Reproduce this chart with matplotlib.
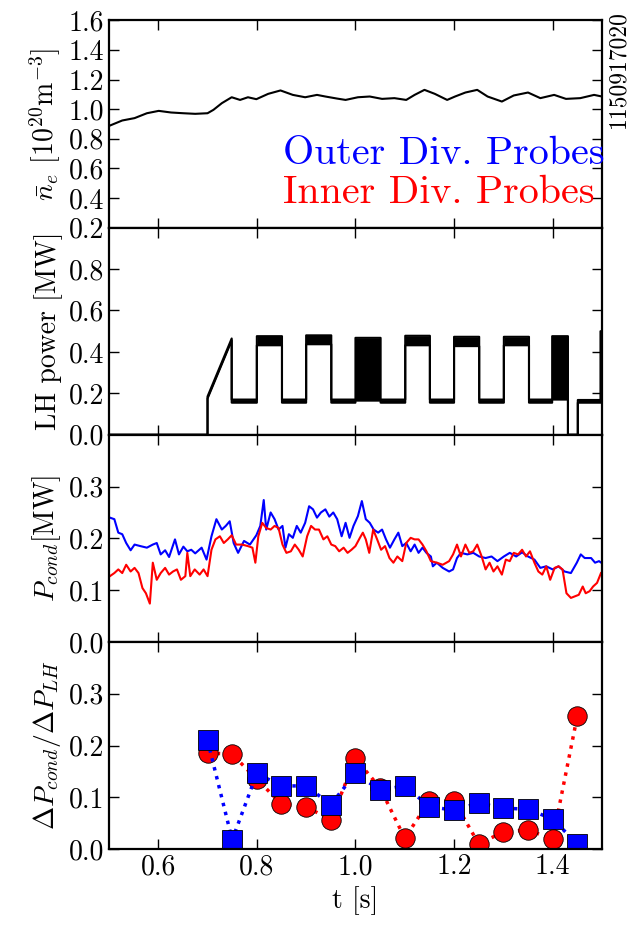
import numpy as np
import matplotlib
matplotlib.use('Agg')
import matplotlib.pyplot as plt
from matplotlib.ticker import FormatStrFormatter

plt.rcParams['font.family'] = 'cmr10'
plt.rcParams['mathtext.fontset'] = 'cm'
plt.rcParams['axes.formatter.use_mathtext'] = True
plt.rcParams['axes.unicode_minus'] = False

# ============================================================
#  데이터
# ============================================================
# 평균 밀도 [1e20 m^-3]
ne_t = [0.500, 0.527, 0.552, 0.577, 0.601, 0.626, 0.651, 0.675, 0.700, 0.712,
        0.729, 0.749, 0.766, 0.782, 0.799, 0.823, 0.848, 0.873, 0.898, 0.922,
        0.939, 0.963, 0.980, 1.005, 1.029, 1.054, 1.079, 1.103, 1.120, 1.140,
        1.161, 1.186, 1.202, 1.223, 1.247, 1.268, 1.297, 1.321, 1.350, 1.375,
        1.403, 1.427, 1.456, 1.484, 1.500]
ne_val = [0.887, 0.924, 0.940, 0.973, 0.989, 0.978, 0.973, 0.969, 0.973, 0.996,
          1.041, 1.081, 1.063, 1.081, 1.068, 1.104, 1.127, 1.097, 1.081, 1.097,
          1.086, 1.072, 1.063, 1.081, 1.086, 1.070, 1.075, 1.063, 1.097, 1.131,
          1.104, 1.063, 1.086, 1.113, 1.131, 1.086, 1.052, 1.093, 1.113, 1.075,
          1.097, 1.070, 1.075, 1.097, 1.086]

# LH 파워 [MW] : 시간, 하한/상한 포락선
lh_t = [0.500, 0.700, 0.700, 0.749, 0.749, 0.800, 0.800, 0.851, 0.851, 0.900,
        0.900, 0.951, 0.951, 1.000, 1.000, 1.051, 1.051, 1.101, 1.101, 1.151,
        1.151, 1.200, 1.200, 1.251, 1.251, 1.301, 1.301, 1.352, 1.352, 1.399,
        1.399, 1.431, 1.431, 1.451, 1.451, 1.497, 1.497, 1.500]
lh_low = [0.000, 0.000, 0.175, 0.455, 0.155, 0.155, 0.432, 0.432, 0.155, 0.155,
          0.437, 0.437, 0.155, 0.155, 0.165, 0.165, 0.155, 0.155, 0.432, 0.432,
          0.155, 0.155, 0.428, 0.428, 0.155, 0.155, 0.432, 0.432, 0.155, 0.155,
          0.170, 0.170, 0.000, 0.000, 0.155, 0.155, 0.155, 0.155]
lh_high = [0.000, 0.000, 0.185, 0.465, 0.170, 0.170, 0.476, 0.476, 0.170, 0.170,
           0.480, 0.480, 0.170, 0.170, 0.468, 0.468, 0.170, 0.170, 0.478, 0.478,
           0.170, 0.170, 0.473, 0.473, 0.170, 0.170, 0.473, 0.473, 0.170, 0.170,
           0.476, 0.476, 0.000, 0.000, 0.168, 0.168, 0.500, 0.500]

# P_cond [MW] - outer (파랑)
pout_t = [0.502, 0.511, 0.519, 0.527, 0.535, 0.544, 0.552, 0.564, 0.577, 0.589,
          0.597, 0.605, 0.614, 0.622, 0.634, 0.642, 0.651, 0.659, 0.667, 0.675,
          0.688, 0.698, 0.708, 0.718, 0.729, 0.737, 0.745, 0.753, 0.762, 0.774,
          0.786, 0.799, 0.807, 0.814, 0.819, 0.828, 0.836, 0.844, 0.852, 0.858,
          0.865, 0.873, 0.881, 0.889, 0.898, 0.906, 0.914, 0.922, 0.930, 0.939,
          0.947, 0.955, 0.963, 0.972, 0.980, 0.988, 0.996, 1.005, 1.013, 1.021,
          1.029, 1.037, 1.046, 1.054, 1.062, 1.070, 1.079, 1.087, 1.095, 1.103,
          1.112, 1.120, 1.128, 1.136, 1.144, 1.153, 1.157, 1.165, 1.177, 1.190,
          1.198, 1.206, 1.214, 1.227, 1.239, 1.251, 1.264, 1.276, 1.288, 1.301,
          1.313, 1.326, 1.338, 1.350, 1.363, 1.375, 1.387, 1.400, 1.412, 1.424,
          1.437, 1.449, 1.457, 1.465, 1.478, 1.486, 1.494, 1.500]
pout_val = [0.240, 0.237, 0.211, 0.208, 0.191, 0.177, 0.188, 0.185, 0.182, 0.188,
            0.191, 0.169, 0.177, 0.164, 0.198, 0.169, 0.184, 0.175, 0.178, 0.171,
            0.182, 0.159, 0.204, 0.237, 0.217, 0.224, 0.233, 0.191, 0.172, 0.195,
            0.188, 0.206, 0.224, 0.274, 0.217, 0.250, 0.237, 0.217, 0.224, 0.182,
            0.208, 0.201, 0.224, 0.211, 0.230, 0.262, 0.256, 0.240, 0.250, 0.256,
            0.242, 0.250, 0.237, 0.204, 0.230, 0.201, 0.224, 0.243, 0.272, 0.237,
            0.230, 0.217, 0.211, 0.217, 0.198, 0.182, 0.198, 0.211, 0.185, 0.191,
            0.175, 0.188, 0.172, 0.182, 0.172, 0.165, 0.146, 0.153, 0.143, 0.136,
            0.140, 0.162, 0.172, 0.169, 0.172, 0.165, 0.162, 0.165, 0.156, 0.165,
            0.172, 0.165, 0.173, 0.165, 0.159, 0.143, 0.146, 0.140, 0.146, 0.136,
            0.133, 0.153, 0.169, 0.162, 0.162, 0.153, 0.156, 0.152]

# P_cond [MW] - inner (빨강)
pin_t = [0.502, 0.511, 0.519, 0.527, 0.535, 0.544, 0.552, 0.560, 0.568, 0.575,
         0.583, 0.589, 0.597, 0.605, 0.614, 0.622, 0.630, 0.638, 0.646, 0.655,
         0.659, 0.665, 0.674, 0.684, 0.692, 0.700, 0.708, 0.716, 0.725, 0.733,
         0.741, 0.749, 0.758, 0.770, 0.782, 0.791, 0.797, 0.803, 0.811, 0.819,
         0.828, 0.836, 0.844, 0.852, 0.860, 0.869, 0.877, 0.885, 0.893, 0.902,
         0.910, 0.918, 0.926, 0.935, 0.943, 0.951, 0.959, 0.967, 0.976, 0.984,
         0.992, 1.000, 1.009, 1.015, 1.021, 1.028, 1.036, 1.044, 1.052, 1.060,
         1.069, 1.077, 1.085, 1.095, 1.103, 1.112, 1.120, 1.128, 1.136, 1.144,
         1.153, 1.165, 1.177, 1.190, 1.198, 1.206, 1.214, 1.223, 1.231, 1.239,
         1.247, 1.256, 1.264, 1.272, 1.280, 1.288, 1.297, 1.305, 1.313, 1.321,
         1.330, 1.338, 1.346, 1.354, 1.363, 1.371, 1.379, 1.387, 1.395, 1.404,
         1.412, 1.420, 1.428, 1.437, 1.445, 1.453, 1.461, 1.467, 1.475, 1.482,
         1.490, 1.498]
pin_val = [0.127, 0.133, 0.140, 0.133, 0.149, 0.136, 0.143, 0.133, 0.104, 0.094,
           0.074, 0.153, 0.120, 0.133, 0.143, 0.130, 0.136, 0.140, 0.120, 0.127,
           0.172, 0.127, 0.140, 0.130, 0.140, 0.127, 0.178, 0.198, 0.204, 0.191,
           0.198, 0.206, 0.188, 0.188, 0.185, 0.182, 0.153, 0.204, 0.230, 0.220,
           0.217, 0.224, 0.220, 0.188, 0.172, 0.175, 0.188, 0.178, 0.165, 0.204,
           0.224, 0.217, 0.217, 0.198, 0.204, 0.188, 0.185, 0.175, 0.182, 0.172,
           0.178, 0.185, 0.201, 0.211, 0.198, 0.172, 0.217, 0.198, 0.178, 0.185,
           0.162, 0.153, 0.165, 0.156, 0.191, 0.201, 0.198, 0.198, 0.188, 0.175,
           0.156, 0.153, 0.149, 0.156, 0.169, 0.188, 0.165, 0.188, 0.172, 0.175,
           0.188, 0.165, 0.140, 0.153, 0.136, 0.146, 0.130, 0.159, 0.156, 0.172,
           0.169, 0.178, 0.165, 0.175, 0.153, 0.136, 0.130, 0.146, 0.120, 0.143,
           0.146, 0.140, 0.094, 0.085, 0.088, 0.091, 0.107, 0.094, 0.098, 0.107,
           0.114, 0.133]

# dP_cond / dP_LH
ratio_t = [0.70, 0.75, 0.80, 0.85, 0.90, 0.95, 1.00, 1.05,
           1.10, 1.15, 1.20, 1.25, 1.30, 1.35, 1.40, 1.45]
ratio_inner = [0.186, 0.183, 0.135, 0.087, 0.082, 0.056, 0.175, 0.118,
               0.021, 0.093, 0.093, 0.010, 0.033, 0.037, 0.019, 0.257]
ratio_outer = [0.210, 0.018, 0.146, 0.122, 0.122, 0.086, 0.146, 0.114,
               0.122, 0.082, 0.075, 0.089, 0.079, 0.077, 0.058, 0.010]

SHOT = '1150917020'
FS = 20

# ============================================================
#  그림
# ============================================================
fig, axes = plt.subplots(4, 1, figsize=(6.37, 9.30), dpi=100, sharex=True)
fig.subplots_adjust(left=0.171, right=0.945, bottom=0.087, top=0.978, hspace=0)
ax1, ax2, ax3, ax4 = axes

ax1.plot(ne_t, ne_val, 'k-', lw=1.5)
ax1.set_ylim(0.2, 1.6)
ax1.set_yticks(np.arange(0.2, 1.61, 0.2))
ax1.set_ylabel(r'$\bar{n}_e$ [10$^{20}$m$^{-3}$]', fontsize=FS)
ax1.text(0.353, 0.305, 'Outer Div. Probes', color='b', fontsize=28.8,
         transform=ax1.transAxes, va='baseline')
ax1.text(0.353, 0.118, 'Inner Div. Probes', color='r', fontsize=28.8,
         transform=ax1.transAxes, va='baseline')

ax2.fill_between(lh_t, lh_low, lh_high, color='k', lw=0)
ax2.plot(lh_t, lh_low, 'k-', lw=1.5)
ax2.plot(lh_t, lh_high, 'k-', lw=1.5)
ax2.set_ylim(0.0, 1.0)
ax2.set_yticks([0.0, 0.2, 0.4, 0.6, 0.8])
ax2.set_ylabel('LH power [MW]', fontsize=FS)

ax3.plot(pout_t, pout_val, 'b-', lw=1.5)
ax3.plot(pin_t, pin_val, 'r-', lw=1.5)
ax3.set_ylim(0.0, 0.4)
ax3.set_yticks([0.0, 0.1, 0.2, 0.3])
ax3.set_ylabel(r'$P_{cond}$[MW]', fontsize=FS)

ax4.plot(ratio_t, ratio_inner, 'r:', lw=2.5, marker='o', ms=14,
         mfc='r', mec='k', mew=0.6)
ax4.plot(ratio_t, ratio_outer, 'b:', lw=2.5, marker='s', ms=14,
         mfc='b', mec='k', mew=0.6)
ax4.set_ylim(0.0, 0.4)
ax4.set_yticks([0.0, 0.1, 0.2, 0.3])
ax4.set_ylabel(r'$\Delta P_{cond}/\Delta P_{LH}$', fontsize=FS)
ax4.set_xlabel('t [s]', fontsize=FS)
ax4.set_xlim(0.5, 1.5)
ax4.set_xticks([0.6, 0.8, 1.0, 1.2, 1.4])

for ax in axes:
    for sp in ax.spines.values():
        sp.set_linewidth(1.6)
    ax.tick_params(direction='in', top=True, right=True, length=7, width=1,
                   labelsize=FS)
    ax.yaxis.set_major_formatter(FormatStrFormatter('%.1f'))
    ax.xaxis.set_major_formatter(FormatStrFormatter('%.1f'))

fig.align_ylabels(axes)
fig.text(0.953, 0.989, SHOT, rotation=90, fontsize=17, ha='left', va='top')

fig.savefig('out.png', dpi=100)
